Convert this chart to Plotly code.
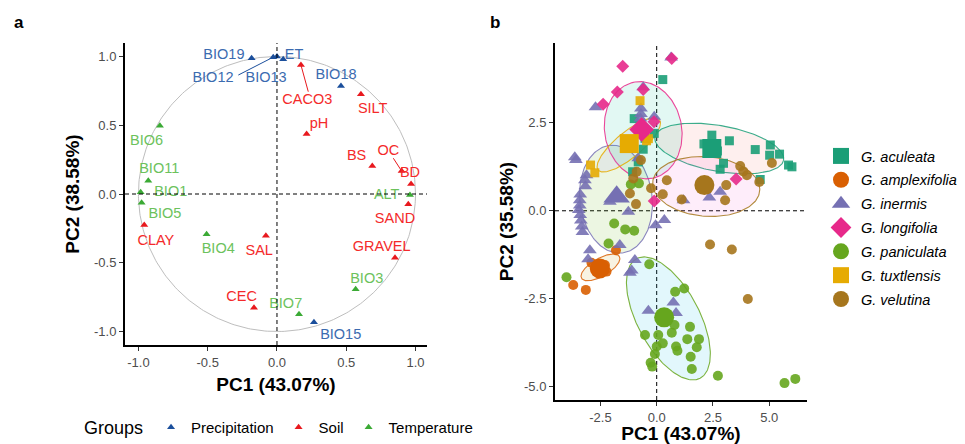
import numpy as np
import plotly.graph_objects as go

# ---------------- Panel a: variable loadings ----------------
var_names = ["BIO19", "BIO12", "BIO13", "ET", "BIO18", "BIO15",
             "CACO3", "SILT", "pH", "BS", "OC", "BD", "CLAY", "SAL", "SAND", "GRAVEL", "CEC",
             "BIO6", "BIO11", "BIO1", "BIO5", "BIO4", "BIO3", "BIO7", "ALT"]
var_group = ["Precipitation"] * 6 + ["Soil"] * 11 + ["Temperature"] * 8
var_pc1 = [-0.183, -0.027, 0.0, 0.045, 0.462, 0.267,
           0.173, 0.606, 0.214, 0.688, 0.90, 0.968, -0.958, -0.08, 0.948, 0.852, -0.166,
           -0.845, -0.929, -0.984, -0.977, -0.508, 0.568, 0.159, 0.96]
var_pc2 = [0.987, 0.995, 1.0, 0.98, 0.785, -0.933,
           0.938, 0.725, 0.436, 0.204, 0.167, 0.073, -0.225, -0.303, -0.075, -0.463, -0.827,
           0.497, 0.097, 0.012, -0.063, -0.293, -0.693, -0.875, -0.007]
label_pc1 = [-0.383, -0.462, -0.079, 0.123, 0.426, 0.46,
             0.219, 0.691, 0.303, 0.575, 0.804, 0.96, -0.874, -0.128, 0.852, 0.756, -0.255,
             -0.941, -0.85, -0.767, -0.809, -0.424, 0.648, 0.063, 0.792]
label_pc2 = [1.011, 0.844, 0.844, 1.011, 0.865, -1.03,
             0.684, 0.618, 0.509, 0.276, 0.308, 0.150, -0.342, -0.415, -0.184, -0.388, -0.754,
             0.385, 0.18, 0.012, -0.148, -0.402, -0.618, -0.802, -0.007]
# repel segments: label-side start points for variables that have a leader line
seg_names = ["BIO12", "CACO3", "OC"]
seg_start_pc1 = [-0.279, 0.226, 0.84]
seg_start_pc2 = [0.865, 0.744, 0.26]

groups = ["Precipitation", "Soil", "Temperature"]
group_marker_col = {"Precipitation": "#1B4F9C", "Soil": "#E8191E", "Temperature": "#3BAA35"}
group_text_col = {"Precipitation": "#3B6BB0", "Soil": "#F42A2A", "Temperature": "#6CC25C"}

# ---------------- Panel b: species scores ----------------
species = ["aculeata", "amplexifolia", "inermis", "longifolia", "paniculata", "tuxtlensis", "velutina"]
sp_color = ["#1B9E77", "#D95F02", "#7570B3", "#E7298A", "#66A61E", "#E6AB02", "#A6761D"]
sp_fill = ["rgba(248,118,109,0.13)", "rgba(196,154,0,0.13)", "rgba(83,180,0,0.13)",
           "rgba(0,192,148,0.13)", "rgba(0,182,235,0.13)", "rgba(165,138,255,0.13)",
           "rgba(251,97,215,0.13)"]
sp_symbol = ["square", "circle", "triangle-up", "diamond", "circle", "square", "circle"]
sp_size = [9, 10, 12, 10, 10, 9, 10]
sp_csize = [19, 20, 23, 19, 20, 19, 20]

aculeata_pc1 = [0.27, 2.45, 3.23, 4.38, 5.05, 5.46, 6.01, 5.02, 2.97, 2.82, 4.60, 2.1, 2.7,
                -1.00, -0.11, -0.52, -0.82, -1.07, -0.6, 5.86]
aculeata_pc2 = [3.73, 2.15, 1.99, 1.74, 1.87, 1.61, 1.25, 1.58, 1.35, 1.18, 0.89, 1.9, 1.7,
                2.62, 2.20, 2.06, 1.39, 1.11, 1.75, 1.30]
amplexifolia_pc1 = [-3.71, -3.15, -2.90, -2.30, -2.67, -2.23, -1.81]
amplexifolia_pc2 = [-2.11, -2.25, -1.48, -1.54, -1.73, -1.73, -1.12]
inermis_pc1 = [-3.59, -3.64, -2.72, -0.60, -0.70, -0.70, -0.11, 0.64, -3.12, -3.19, -3.17, -3.40,
               -3.42, -3.42, -3.46, -3.40, -3.37, -3.33, -3.30, -2.97, -3.05, -1.26, -2.08, 0.34,
               -0.05, -1.64, -0.97, -1.11, -1.19, -0.37, 0.74, 0.86, 1.19, 2.34, 2.82, -0.72,
               -0.65, -0.82]
inermis_pc2 = [1.44, 1.52, 2.94, 3.51, 2.91, 2.75, 2.67, 4.36, 1.01, 0.87, 0.70, 0.46,
               0.30, 0.15, 0.02, -0.12, -0.28, -0.45, -0.60, -1.12, -1.38, -0.03, 0.26, -0.26,
               -0.41, -0.97, -1.40, -1.70, -1.76, -2.84, -2.61, -2.91, 0.30, 0.38, 0.54, 2.62,
               2.40, 1.49]
longifolia_pc1 = [-1.51, 0.67, -1.75, -2.38, -0.60, -0.12, 3.53, -0.11]
longifolia_pc2 = [4.11, 4.33, 3.38, 3.03, 3.45, 2.53, 0.90, 0.28]
paniculata_pc1 = [-4.01, -1.89, -1.40, -1.00, -2.14, -0.33, 0.82, 1.22, 0.79, 1.48, -0.52, 0.07,
                  0.67, 1.36, 1.88, 0.0, 0.27, 0.86, 0.92, 1.78, -0.08, 1.51, -0.27, -0.20, 1.56,
                  2.72, 5.68, 6.16, -0.79, -1.15]
paniculata_pc2 = [-1.89, -0.36, -0.53, -0.57, -0.93, -1.52, -2.30, -2.21, -3.25, -3.30, -3.53, -3.53,
                  -3.47, -3.65, -3.65, -3.86, -3.77, -3.86, -3.98, -3.88, -4.07, -4.15, -4.32, -4.43,
                  -4.50, -4.69, -4.90, -4.78, 0.78, 0.75]
tuxtlensis_pc1 = [-0.74, -0.45, -0.37, -2.94, -2.75]
tuxtlensis_pc2 = [3.13, 1.99, 2.05, 1.30, 1.08]
velutina_pc1 = [0.45, 0.27, 1.11, 3.09, 3.04, 3.71, 4.01, 4.56, 5.12, -0.25, -0.92, -1.19, -1.04,
                -0.89, -0.70, 2.37, 3.34, 4.05, 3.85]
velutina_pc2 = [0.87, 0.47, 0.32, 0.73, 0.30, 1.27, 1.01, 0.82, 1.36, 0.64, 0.19, 0.49, 0.92,
                1.11, 1.44, -0.96, -1.10, -2.51, 1.12]

sp_pc1 = [aculeata_pc1, amplexifolia_pc1, inermis_pc1, longifolia_pc1,
          paniculata_pc1, tuxtlensis_pc1, velutina_pc1]
sp_pc2 = [aculeata_pc2, amplexifolia_pc2, inermis_pc2, longifolia_pc2,
          paniculata_pc2, tuxtlensis_pc2, velutina_pc2]

centroid_pc1 = [2.45, -2.53, -1.78, -0.67, 0.33, -1.22, 2.12]
centroid_pc2 = [1.77, -1.64, 0.40, 2.31, -3.03, 1.91, 0.73]

# ellipse parameters: centre, semi-axis vector U, conjugate semi-axis vector V (data units)
ell_cx = [2.78, -2.50, -1.81, -0.60, 0.52, -1.24, 2.20]
ell_cy = [1.77, -1.61, 0.33, 2.29, -3.06, 1.875, 0.69]
ell_ux = [2.86, 0.84, -0.27, -0.37, 1.41, 1.36, 2.38]
ell_uy = [-0.33, 0.31, 1.53, 1.37, -1.70, 0.72, -0.06]
ell_vx = [0.18, 0.20, 1.60, 1.69, 1.22, 0.37, -0.07]
ell_vy = [0.64, -0.22, 0.11, 0.18, 0.41, -0.28, 0.85]

FONT = "Liberation Sans, Arial, sans-serif"
fig = go.Figure()

# unit circle
t = np.linspace(0, 2 * np.pi, 361)
fig.add_trace(go.Scatter(x=np.cos(t), y=np.sin(t), mode="lines",
                         line=dict(color="#BEBEBE", width=1), showlegend=False,
                         hoverinfo="skip", xaxis="x", yaxis="y"))

# leader segments
name_idx = {n: i for i, n in enumerate(var_names)}
for n, sx, sy in zip(seg_names, seg_start_pc1, seg_start_pc2):
    i = name_idx[n]
    g = var_group[i]
    fig.add_trace(go.Scatter(x=[sx, var_pc1[i]], y=[sy, var_pc2[i]], mode="lines",
                             line=dict(color=group_marker_col[g], width=1),
                             showlegend=False, hoverinfo="skip", xaxis="x", yaxis="y"))

for g in groups:
    idx = [i for i, v in enumerate(var_group) if v == g]
    fig.add_trace(go.Scatter(
        x=[var_pc1[i] for i in idx], y=[var_pc2[i] for i in idx], mode="markers",
        marker=dict(symbol="triangle-up", size=7, color=group_marker_col[g]),
        name=g, legend="legend", legendgroup="grp_" + g, xaxis="x", yaxis="y"))
    fig.add_trace(go.Scatter(
        x=[label_pc1[i] for i in idx], y=[label_pc2[i] for i in idx], mode="text",
        text=[var_names[i] for i in idx], textposition="middle center",
        textfont=dict(family=FONT, size=14.5, color=group_text_col[g]),
        showlegend=False, hoverinfo="skip", xaxis="x", yaxis="y"))

# ellipses
phi = np.linspace(0, 2 * np.pi, 181)
for k, sp in enumerate(species):
    ex = ell_cx[k] + np.cos(phi) * ell_ux[k] + np.sin(phi) * ell_vx[k]
    ey = ell_cy[k] + np.cos(phi) * ell_uy[k] + np.sin(phi) * ell_vy[k]
    fig.add_trace(go.Scatter(x=ex, y=ey, mode="lines", fill="toself",
                             fillcolor=sp_fill[k],
                             line=dict(color=sp_color[k], width=1.1),
                             opacity=0.85, legendgroup=sp, showlegend=False,
                             hoverinfo="skip", xaxis="x2", yaxis="y2"))

# points
for k, sp in enumerate(species):
    fig.add_trace(go.Scatter(x=sp_pc1[k], y=sp_pc2[k], mode="markers",
                             marker=dict(symbol=sp_symbol[k], size=sp_size[k],
                                         color=sp_color[k], opacity=0.9, line=dict(width=0)),
                             legendgroup=sp, showlegend=False, name=sp,
                             xaxis="x2", yaxis="y2"))

# centroids (carry the legend)
for k, sp in enumerate(species):
    fig.add_trace(go.Scatter(x=[centroid_pc1[k]], y=[centroid_pc2[k]], mode="markers",
                             marker=dict(symbol=sp_symbol[k], size=sp_csize[k],
                                         color=sp_color[k], line=dict(width=0)),
                             legendgroup=sp, showlegend=True, legend="legend2",
                             name="<i>G. " + sp + "</i>", xaxis="x2", yaxis="y2"))

# page is shown with an 8px body margin: figure pixel = page pixel - 8
OFF = 8
W, H = 965 - OFF, 444 - OFF


def fx(px):
    return (px - OFF) / W


def fy(py):
    return (H - (py - OFF)) / H


axis_common = dict(showline=True, linecolor="black", linewidth=2, ticks="outside",
                   ticklen=4, tickcolor="#333333", tickwidth=1, showgrid=False,
                   zeroline=False, automargin=False,
                   tickfont=dict(family=FONT, size=13, color="#4D4D4D"))
title_font = dict(family=FONT, size=19, color="black")

shapes = []
for xr, yr, layer in [("x", "y", "above"), ("x2", "y2", "below")]:
    shapes.append(dict(type="line", xref=xr, yref=yr + " domain", x0=0, x1=0, y0=0, y1=1,
                       line=dict(color="black", width=1, dash="4px,3px"), layer=layer))
    shapes.append(dict(type="line", xref=xr + " domain", yref=yr, x0=0, x1=1, y0=0, y1=0,
                       line=dict(color="black", width=1, dash="4px,3px"), layer=layer))

fig.update_layout(
    width=W, height=H, margin=dict(l=0, r=0, t=0, b=0, autoexpand=False),
    paper_bgcolor="white", plot_bgcolor="white",
    font=dict(family=FONT, size=13, color="black"),
    xaxis=dict(domain=[fx(125), fx(427)], range=[-1.097, 1.083], anchor="y",
               tickvals=[-1, -0.5, 0, 0.5, 1], ticktext=["-1.0", "-0.5", "0.0", "0.5", "1.0"],
               title=dict(text="<b>PC1 (43.07%)</b>", font=title_font, standoff=9),
               **axis_common),
    yaxis=dict(domain=[fy(345), fy(43)], range=[-1.098, 1.098], anchor="x",
               tickvals=[-1, -0.5, 0, 0.5, 1], ticktext=["-1.0", "-0.5", "0.0", "0.5", "1.0"],
               title=dict(text="<b>PC2 (38.58%)</b>", font=title_font, standoff=9),
               **axis_common),
    xaxis2=dict(domain=[fx(555), fx(807)], range=[-4.52, 6.68], anchor="y2",
                tickvals=[-2.5, 0, 2.5, 5], ticktext=["-2.5", "0.0", "2.5", "5.0"],
                title=dict(text="<b>PC1 (43.07%)</b>", font=title_font, standoff=7),
                **axis_common),
    yaxis2=dict(domain=[fy(400), fy(43)], range=[-5.38, 4.77], anchor="x2",
                tickvals=[-5, -2.5, 0, 2.5], ticktext=["-5.0", "-2.5", "0.0", "2.5"],
                title=dict(text="<b>PC2 (35.58%)</b>", font=title_font, standoff=5),
                **axis_common),
    legend=dict(orientation="h", x=fx(82), xanchor="left", y=fy(428), yanchor="middle",
                traceorder="normal",
                title=dict(text="Groups", font=dict(family=FONT, size=18), side="left"),
                font=dict(family=FONT, size=15), bgcolor="rgba(0,0,0,0)"),
    legend2=dict(orientation="v", x=fx(821), xanchor="left", y=fy(140), yanchor="top",
                 font=dict(family=FONT, size=14.5), tracegroupgap=2, itemsizing="trace",
                 traceorder="grouped", bgcolor="rgba(0,0,0,0)"),
    shapes=shapes,
    annotations=[
        dict(text="<b>a</b>", x=fx(12), y=fy(22), xref="paper", yref="paper",
             showarrow=False, font=dict(family=FONT, size=17), xanchor="left", yanchor="middle"),
        dict(text="<b>b</b>", x=fx(488), y=fy(22), xref="paper", yref="paper",
             showarrow=False, font=dict(family=FONT, size=17), xanchor="left", yanchor="middle"),
    ],
)

fig.write_html("out.html")
